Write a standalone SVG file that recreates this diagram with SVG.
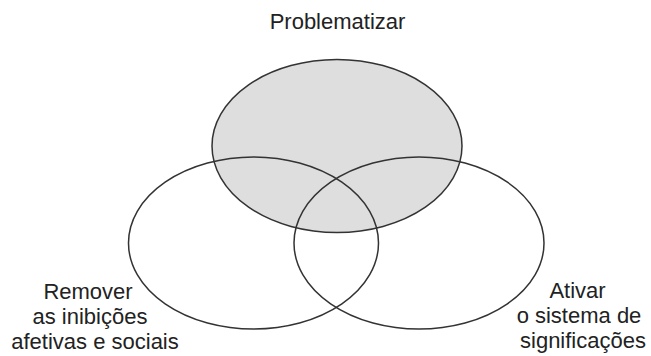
<svg xmlns="http://www.w3.org/2000/svg" width="651" height="356" viewBox="0 0 651 356">
<style>
.c{stroke:#333;stroke-width:1.5;fill:none}
.f{fill:#dedede}
text{font-family:"Liberation Sans",Arial,sans-serif;font-size:22px;fill:#222;text-anchor:middle}
</style>
<rect width="651" height="356" fill="#fff"/>
<g id="problematizar">
<ellipse class="c f" cx="337" cy="146" rx="125" ry="86.5"/>
<text x="337.5" y="29">Problematizar</text>
</g>
<g id="remover">
<ellipse class="c" cx="253.5" cy="243" rx="125" ry="86"/>
<text x="88" y="299">Remover</text>
<text x="90" y="324">as inibições</text>
<text x="95" y="349">afetivas e sociais</text>
</g>
<g id="ativar">
<ellipse class="c" cx="419" cy="243" rx="125" ry="86"/>
<text x="577.5" y="298">Ativar</text>
<text x="579" y="323">o sistema de</text>
<text x="583" y="348">significações</text>
</g>
</svg>
